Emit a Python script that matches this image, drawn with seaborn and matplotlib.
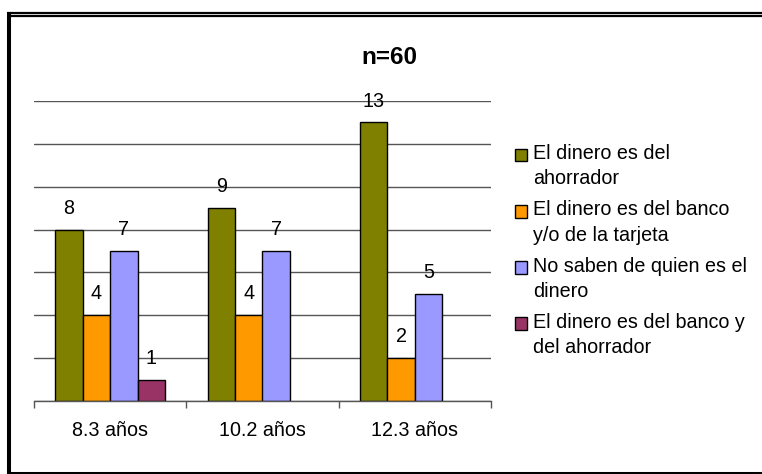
import matplotlib
matplotlib.use("Agg")
import matplotlib.pyplot as plt
import seaborn as sns
import pandas as pd
from matplotlib.lines import Line2D

categories = ["8.3 años", "10.2 años", "12.3 años"]
series = [
    "El dinero es del\nahorrador",
    "El dinero es del banco\ny/o de la tarjeta",
    "No saben de quien es el\ndinero",
    "El dinero es del banco y\ndel ahorrador",
]
ahorrador = [8, 9, 13]
banco_tarjeta = [4, 4, 2]
no_saben = [7, 7, 5]
banco_y_ahorrador = [1, None, None]
colors = ["#808000", "#FF9900", "#9999FF", "#993366"]
title = "n=60"

rows = []
for s, vals in zip(series, [ahorrador, banco_tarjeta, no_saben, banco_y_ahorrador]):
    for c, v in zip(categories, vals):
        if v is not None:
            rows.append({"cat": c, "series": s, "val": v})
df = pd.DataFrame(rows)

sns.set_theme(style="white")
plt.rcParams["font.family"] = ["Liberation Sans", "DejaVu Sans"]
plt.rcParams["text.color"] = "black"
plt.rcParams["xtick.color"] = "black"
plt.rcParams["xtick.labelcolor"] = "black"

FS = 14.2
W, H = 762, 474
fig = plt.figure(figsize=(W / 100, H / 100), dpi=100)
ax = fig.add_axes([34 / W, 73 / H, 457 / W, 300 / H])

sns.barplot(data=df, x="cat", y="val", hue="series", order=categories,
            hue_order=series, palette=colors, width=0.72, gap=0,
            edgecolor="black", linewidth=1, saturation=1, ax=ax, legend=True)

for cont in ax.containers:
    ax.bar_label(cont, labels=[f"{v:g}" for v in cont.datavalues],
                 padding=8.5, fontsize=FS, color="black")

ax.set_ylim(0, 14)
ax.set_xlim(-0.5, 2.5)
ax.set_yticks(range(0, 15, 2))
ax.set_yticklabels([])
ax.yaxis.grid(True, color="#555555", linewidth=1)
ax.set_axisbelow(True)
ax.tick_params(axis="y", length=0, left=False)
for s in ["left", "top", "right"]:
    ax.spines[s].set_visible(False)
ax.spines["bottom"].set_color("#555555")
ax.spines["bottom"].set_linewidth(1)
ax.set_xlabel("")
ax.set_ylabel("")
ax.set_xticks([0, 1, 2])
ax.set_xticklabels(categories, fontsize=FS, color="black")
ax.set_xticks([-0.5, 0.5, 1.5, 2.5], minor=True)
ax.tick_params(axis="x", which="major", length=0, pad=14.5, bottom=True)
ax.tick_params(axis="x", which="minor", length=5, width=1, color="#555555",
               bottom=True, direction="out")

handles, labels = ax.get_legend_handles_labels()
ax.get_legend().remove()
leg = fig.legend(handles, labels, loc="upper left",
                 bbox_to_anchor=(515 / W, 1 - 144 / H), frameon=False,
                 fontsize=FS, handlelength=0.62, handleheight=0.62,
                 handletextpad=0.28, labelspacing=0.6, borderpad=0,
                 borderaxespad=0)
plt.setp(leg.get_texts(), linespacing=1.43, color="black")

fig.text(389 / W, 1 - 57 / H, title, ha="center", va="center",
         fontsize=17.5, fontweight="bold", color="black")

# align each legend swatch with the first line of its label
fig.canvas.draw()
r = fig.canvas.get_renderer()
for patch, txt in zip(leg.get_patches(), leg.get_texts()):
    tb = txt.get_window_extent(r)
    pb = patch.get_window_extent(r)
    target_top = tb.y1 - 4.5
    shift_px = target_top - pb.y1
    patch.set_y(patch.get_y() + shift_px * 72 / fig.dpi)

# outer frame
fig.add_artist(Line2D([9 / W, 9 / W], [1 - 12 / H, 0], transform=fig.transFigure,
                      color="black", lw=2.9, solid_capstyle="butt"))
fig.add_artist(Line2D([7 / W, 1], [1.5 / H, 1.5 / H], transform=fig.transFigure,
                      color="black", lw=2.2, solid_capstyle="butt"))
fig.add_artist(Line2D([7 / W, 1], [1 - 13 / H, 1 - 13 / H], transform=fig.transFigure,
                      color="black", lw=1.6, solid_capstyle="butt"))
fig.add_artist(Line2D([7 / W, 1], [1 - 16 / H, 1 - 16 / H], transform=fig.transFigure,
                      color="black", lw=1.6, solid_capstyle="butt"))

fig.savefig("out.png", dpi=100)
